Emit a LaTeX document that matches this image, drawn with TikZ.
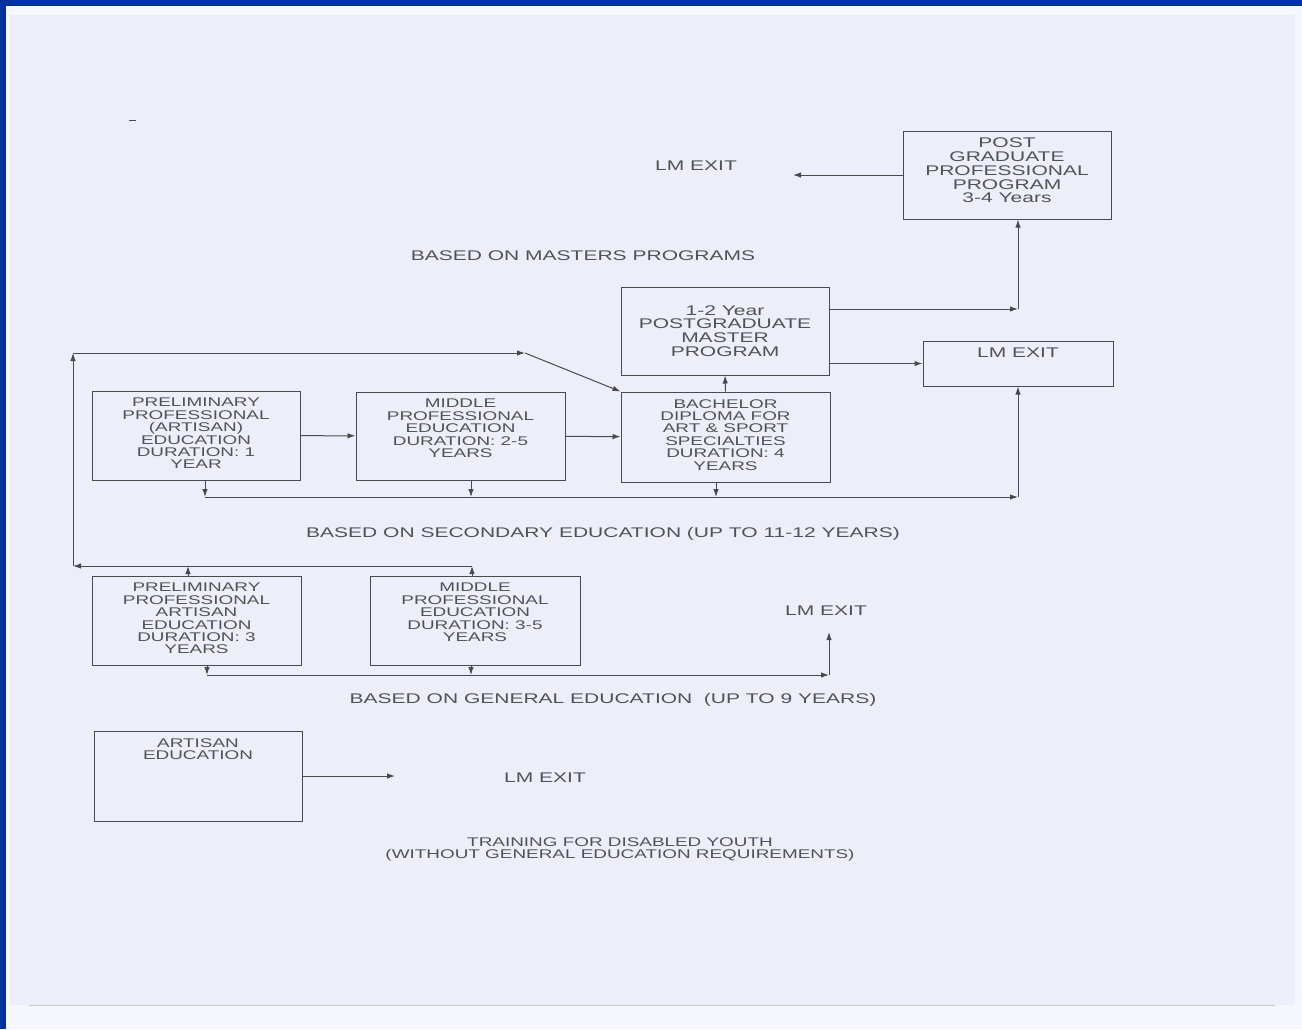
\documentclass[tikz,border=0pt]{standalone}
\usepackage{fontspec}
\setmainfont[FakeStretch=1.5]{Liberation Sans}
\usepackage{tikz}
\usetikzlibrary{arrows.meta}

\definecolor{framblue}{HTML}{0033A0}
\definecolor{paper}{HTML}{ECEEFA}
\definecolor{paperedge}{HTML}{F6F7FC}
\definecolor{txtgray}{HTML}{525252}
\definecolor{linegray}{HTML}{4A4A4A}

\newcommand{\txtbig}{\fontsize{14}{13.75}\selectfont}
\newcommand{\txtsmall}{\fontsize{12.6}{12.4}\selectfont}

\begin{document}
\begin{tikzpicture}[x=1pt, y=-1pt,
          box/.style = {draw=linegray, line width=1pt, inner sep=0pt},
          inbox/.style = {anchor=north, yshift=-7.5pt, inner sep=0pt, align=center,
                          text=txtgray, font=\txtsmall},
          lbl/.style = {inner sep=0pt, align=center, text=txtgray, font=\txtbig},
          arr/.style = {draw=linegray, line width=1pt, -{Latex[length=8pt,width=5.5pt]}}]
        % page
        \useasboundingbox (0,0) rectangle (1302,1029);
        \fill[paperedge] (0,0) rectangle (1302,1029);
        \fill[paper] (10,15) rectangle (1295,1005);
        \draw[gray!40] (29,1005) -- (1275,1005);
        \fill[framblue] (0,0) rectangle (1302,5.5);
        \fill[framblue] (0,0) rectangle (5.5,1029);
        \draw[linegray] (129,120) -- (136,120);

        % boxes
        \node[box, minimum width=208pt, minimum height=88pt,
              label={[inbox, font=\txtbig]north:{POST\\GRADUATE\\PROFESSIONAL\\PROGRAM\\3-4 Years}}]
              (pg) at (1007,175) {};
        \node[box, minimum width=208pt, minimum height=88pt, align=center,
              text=txtgray, font=\txtbig]
              (ms) at (725,331) {1-2 Year\\POSTGRADUATE\\MASTER\\PROGRAM};
        \node[box, minimum width=190pt, minimum height=45pt,
              label={[inbox, font=\txtbig]north:{LM EXIT}}]
              (lx) at (1018,363.5) {};
        \node[box, minimum width=209pt, minimum height=90pt,
              label={[inbox]north:{BACHELOR\\DIPLOMA FOR\\ART \& SPORT\\SPECIALTIES\\DURATION: 4\\YEARS}}]
              (bach) at (725.5,437) {};
        \node[box, minimum width=208pt, minimum height=89pt,
              label={[inbox]north:{PRELIMINARY\\PROFESSIONAL\\(ARTISAN)\\EDUCATION\\DURATION: 1\\YEAR}}]
              (pp1) at (196,435.5) {};
        \node[box, minimum width=209pt, minimum height=88pt,
              label={[inbox]north:{MIDDLE\\PROFESSIONAL\\EDUCATION\\DURATION: 2-5\\YEARS}}]
              (mid1) at (460.5,436) {};
        \node[box, minimum width=209pt, minimum height=89pt,
              label={[inbox]north:{PRELIMINARY\\PROFESSIONAL\\ARTISAN\\EDUCATION\\DURATION: 3\\YEARS}}]
              (pp2) at (196.5,620.5) {};
        \node[box, minimum width=210pt, minimum height=89pt,
              label={[inbox]north:{MIDDLE\\PROFESSIONAL\\EDUCATION\\DURATION: 3-5\\YEARS}}]
              (mid2) at (475,620.5) {};
        \node[box, minimum width=208pt, minimum height=90pt,
              label={[inbox]north:{ARTISAN\\EDUCATION}}]
              (art) at (198,776) {};

        % free texts
        \node[lbl] (lmA) at (696,166) {LM EXIT};
        \node[lbl] (lmB) at (826,611) {LM EXIT};
        \node[lbl] (lmC) at (545,778) {LM EXIT};
        \node[lbl] (masters) at (583,256) {BASED ON MASTERS PROGRAMS};
        \node[lbl] (secondary) at (603,533.5) {BASED ON SECONDARY EDUCATION (UP TO 11-12 YEARS)};
        \node[lbl] (general) at (613,699.5) {BASED ON GENERAL EDUCATION \ (UP TO 9 YEARS)};
        \node[lbl, font=\txtsmall] (disabled) at (620,849.5)
              {TRAINING FOR DISABLED YOUTH\\(WITHOUT GENERAL EDUCATION REQUIREMENTS)};

        % bends and free ends
        \coordinate (eA) at (793,175);
        \coordinate (cA) at (1018,309);
        \coordinate (gA) at (73,566);
        \coordinate (gB) at (73,353);
        \coordinate (gC) at (525,353);
        \coordinate (upA) at (188,566);
        \coordinate (upB) at (472,566);
        \coordinate (dA) at (205,497);
        \coordinate (dB) at (471,497);
        \coordinate (dC) at (716,497);
        \coordinate (sA) at (1018,497);
        \coordinate (gnA) at (207,675);
        \coordinate (gnB) at (471,675);
        \coordinate (gnC) at (829,675);
        \coordinate (gnD) at (829,632);
        \coordinate (aE) at (395,776);

        % masters level
        \draw[arr] (pg.west) -- (eA);
        \draw[arr] (ms.east |- cA) -- (cA);
        \draw[arr] (cA) -- (cA |- pg.south);
        \draw[arr] (ms.east |- lx.west) -- (lx.west);
        \draw[arr] (bach.north) -- (ms.south);

        % secondary level
        \draw[arr] (pp1) -- (mid1);
        \draw[arr] (mid1) -- (bach);
        \foreach \b/\c in {pp1/dA, mid1/dB, bach/dC}
                 {
                   \draw[arr] (\b.south -| \c) -- (\c);
                 }
        \draw[arr] (dA) -- (sA);
        \draw[arr] (sA) -- (sA |- lx.south);

        % general level
        \foreach \b/\c in {pp2/upA, mid2/upB}
                 {
                   \draw[arr] (\b.north -| \c) -- (\c);
                 }
        \draw[arr] (upB) -- (gA);
        \draw[arr] (gA) -- (gB);
        \draw[arr] (gB) -- (gC);
        \draw[arr] (gC) -- (bach.north west);
        \foreach \b/\c in {pp2/gnA, mid2/gnB}
                 {
                   \draw[arr] (\b.south -| \c) -- (\c);
                 }
        \draw[arr] (gnA) -- (gnC);
        \draw[arr] (gnC) -- (gnD);

        % disabled youth
        \draw[arr] (art.east) -- (aE);
\end{tikzpicture}
\end{document}
